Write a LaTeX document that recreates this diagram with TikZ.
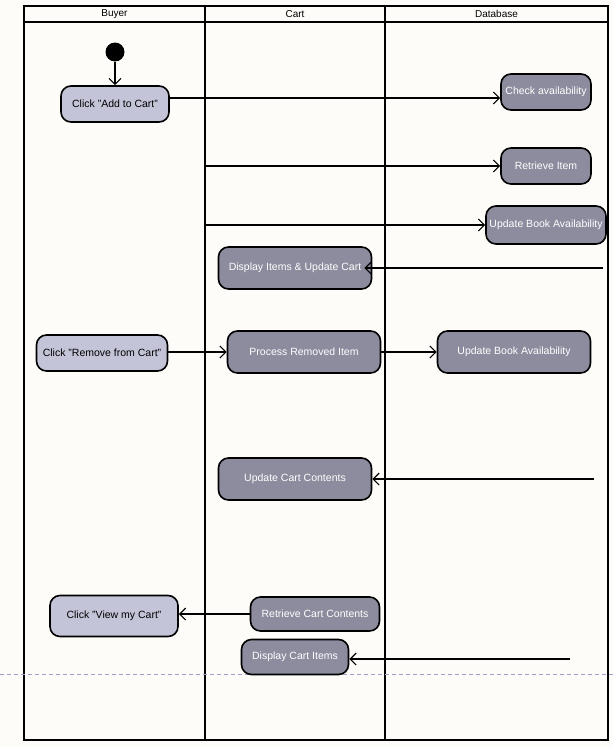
\documentclass[tikz,border=0pt]{standalone}
\usepackage{fontspec}
\setmainfont{Liberation Sans}
\usetikzlibrary{arrows.meta}
\definecolor{bgc}{HTML}{FDFCF9}
\definecolor{lightbox}{HTML}{C4C4D8}
\definecolor{darkbox}{HTML}{8C8C9E}
\definecolor{dashc}{HTML}{A0A0C8}
\tikzset{
  base/.style={draw=black, line width=1.6pt, rounded corners=10pt, inner sep=0pt,
    font=\fontsize{10.5}{12}\selectfont, align=center},
  userbox/.style={base, fill=lightbox, text=black},
  sysbox/.style={base, fill=darkbox, text=white},
  arr/.style={line width=1.2pt, -{Straight Barb[length=6pt,width=12pt,line width=1.2pt]}},
  lane/.style={line width=1.8pt},
  hdr/.style={font=\fontsize{10}{12}\selectfont, inner sep=0pt}
}
\begin{document}
\begin{tikzpicture}[x=1pt,y=-1pt]
\useasboundingbox (0,0) rectangle (613,747);
\fill[bgc] (0,0) rectangle (613,747);
% swimlane frame
\draw[lane] (24,6) rectangle (608,740);
\draw[line width=1.4pt] (24,22) -- (608,22);
\draw[lane] (205,6) -- (205,740);
\draw[lane] (385,6) -- (385,740);
\node[hdr] (hbuyer) at (114.5,14) {Buyer};
\node[hdr] (hcart) at (295,14) {Cart};
\node[hdr] (hdb) at (496.5,14) {Database};
% dashed line
\draw[dashc, line width=1pt, dash pattern=on 4pt off 3pt] (0,674) -- (613,674);
% nodes
\node[circle, fill=black, minimum size=19pt, inner sep=0pt] (start) at (115,52) {};
\node[userbox, minimum width=108pt, minimum height=36pt] (add) at (115,104) {Click "Add to Cart"};
\node[sysbox, minimum width=90pt, minimum height=36pt] (check) at (546,92) {Check availability};
\node[sysbox, minimum width=90pt, minimum height=36pt] (retr) at (546,166) {Retrieve Item};
\node[sysbox, minimum width=120pt, minimum height=38pt] (upd1) at (546,225) {Update Book Availability};
\node[sysbox, minimum width=153pt, minimum height=42pt] (disp) at (295,268) {Display Items \& Update Cart};
\node[userbox, minimum width=131pt, minimum height=36pt] (remove) at (102,353) {Click "Remove from Cart"};
\node[sysbox, minimum width=153pt, minimum height=42pt] (proc) at (304,352) {Process Removed Item};
\node[sysbox, minimum width=153pt, minimum height=42pt] (upd2) at (514,352) {Update Book Availability};
\node[sysbox, minimum width=153pt, minimum height=42pt] (ucc) at (295,479) {Update Cart Contents};
\node[userbox, minimum width=128pt, minimum height=41pt] (view) at (114,616) {Click "View my Cart"};
\node[sysbox, minimum width=129pt, minimum height=34pt] (rcc) at (315,614) {Retrieve Cart Contents};
\node[sysbox, minimum width=107pt, minimum height=35pt] (dci) at (295,657) {Display Cart Items};
% free ends
\coordinate (c1) at (205,166);
\coordinate (c2) at (205,225);
\coordinate (d1) at (603,268);
\coordinate (d2) at (594,479);
\coordinate (d3) at (570,659);
% connectors
\draw[arr] (start) -- (add);
\draw[arr] ([yshift=6pt]add.east) -- ([yshift=-6pt]check.west);
\draw[arr] (c1) -- (retr.west);
\draw[arr] (c2) -- (upd1.west);
\draw[arr] (d1) -- ([xshift=-8pt]disp.east);
\draw[arr] (remove.east |- proc.west) -- (proc.west);
\draw[arr] (proc.east) -- (upd2.west);
\draw[arr] (d2) -- (ucc.east);
\draw[arr] (rcc.west) -- (view.east |- rcc.west);
\draw[arr] (d3) -- (dci.east |- d3);
\end{tikzpicture}
\end{document}
